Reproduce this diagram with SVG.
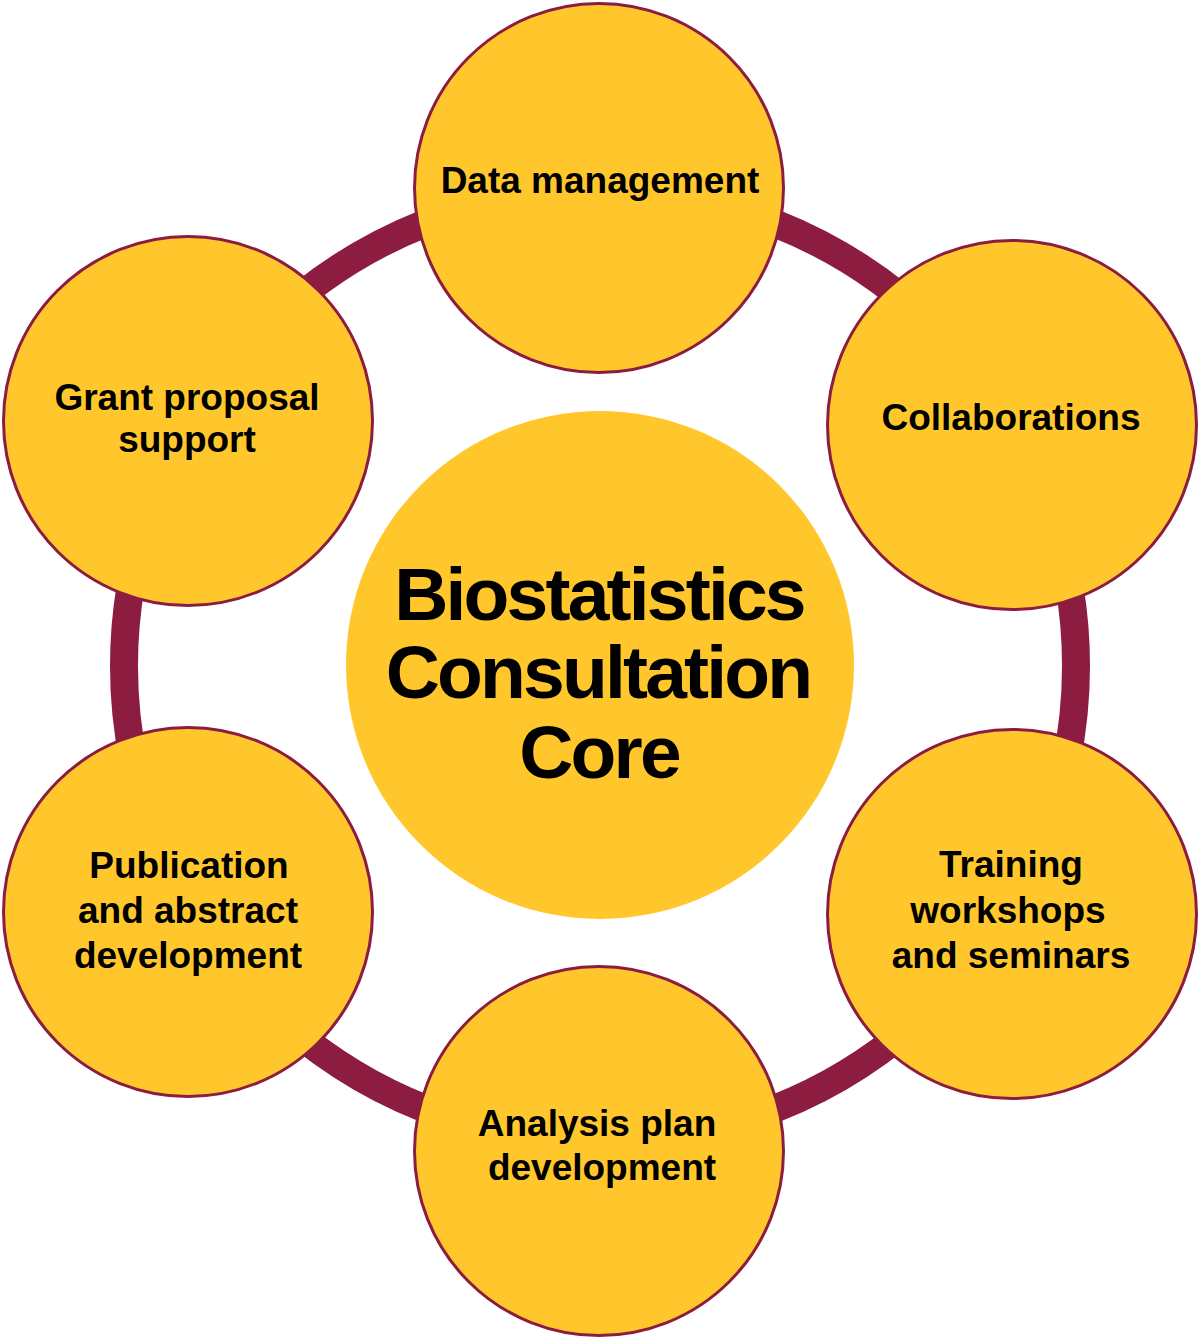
<svg xmlns="http://www.w3.org/2000/svg" width="1200" height="1339" viewBox="0 0 1200 1339">
  <style>
    .node { fill: #FFC72C; stroke: #8C1D40; stroke-width: 3; }
    .core { fill: #FFC72C; }
    .ring { fill: none; stroke: #8C1D40; stroke-width: 28; }
    .lbl { font-family: "Liberation Sans", Arial, Helvetica, sans-serif; font-weight: bold; font-size: 37px; fill: #000; text-anchor: middle; }
    .title { font-family: "Liberation Sans", Arial, Helvetica, sans-serif; font-weight: bold; font-size: 75px; letter-spacing: -2.8px; fill: #000; text-anchor: middle; }
  </style>
  <rect width="1200" height="1339" fill="#FFFFFF"/>
  <g id="connectors">
    <circle class="ring" cx="600" cy="666" r="476"/>
  </g>
  <g id="core">
    <circle class="core" cx="600" cy="665" r="254"/>
    <text class="title" x="599" y="620">Biostatistics</text>
    <text class="title" x="598" y="698">Consultation</text>
    <text class="title" x="599" y="778">Core</text>
  </g>
  <g id="data-management">
    <circle class="node" cx="599" cy="188" r="184.5"/>
    <text class="lbl" x="600" y="193">Data management</text>
  </g>
  <g id="collaborations">
    <circle class="node" cx="1012" cy="425" r="184.5"/>
    <text class="lbl" x="1011" y="430">Collaborations</text>
  </g>
  <g id="training">
    <circle class="node" cx="1012" cy="914" r="184.5"/>
    <text class="lbl" x="1011" y="877">Training</text>
    <text class="lbl" x="1008" y="923">workshops</text>
    <text class="lbl" x="1011" y="968">and seminars</text>
  </g>
  <g id="analysis-plan">
    <circle class="node" cx="599" cy="1151" r="184.5"/>
    <text class="lbl" x="597" y="1136">Analysis plan</text>
    <text class="lbl" x="602" y="1180">development</text>
  </g>
  <g id="publication">
    <circle class="node" cx="188" cy="912" r="184.5"/>
    <text class="lbl" x="189" y="878">Publication</text>
    <text class="lbl" x="188" y="923">and abstract</text>
    <text class="lbl" x="188" y="968">development</text>
  </g>
  <g id="grant-proposal">
    <circle class="node" cx="188" cy="421" r="184.5"/>
    <text class="lbl" x="187" y="410">Grant proposal</text>
    <text class="lbl" x="187" y="452">support</text>
  </g>
</svg>
